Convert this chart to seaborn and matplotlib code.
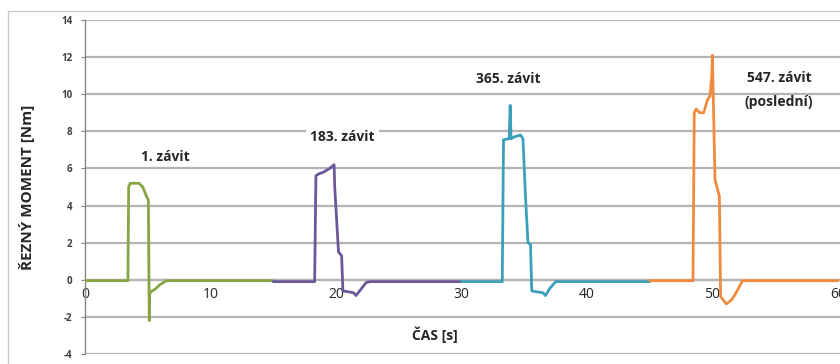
import numpy as np
import pandas as pd
import matplotlib
matplotlib.use("Agg")
import matplotlib.pyplot as plt
from matplotlib.patches import Rectangle
import seaborn as sns

# Cutting torque traces for four threads (time in s, torque in Nm)
t_first = [0, 3.42, 3.48, 3.6, 4.3, 4.6, 4.9, 5.05, 5.12, 5.16, 5.25, 5.6, 6.0, 6.5, 15]
m_first = [-0.05, -0.05, 5.0, 5.2, 5.2, 5.0, 4.5, 4.3, -2.2, -0.7, -0.65, -0.5, -0.25, -0.05, -0.05]

t_183 = [15, 18.3, 18.4, 18.6, 19.0, 19.5, 19.85, 19.9, 20.2, 20.45, 20.55, 21.0, 21.4, 21.6, 22.0, 22.4, 22.7, 30]
m_183 = [-0.1, -0.1, 5.6, 5.7, 5.8, 6.0, 6.2, 5.0, 1.5, 1.3, -0.6, -0.65, -0.7, -0.85, -0.5, -0.15, -0.1, -0.1]

t_365 = [30, 33.25, 33.35, 33.8, 33.88, 33.95, 34.2, 34.7, 34.9, 35.1, 35.3, 35.5, 35.6, 36.0, 36.5, 36.7, 37.0, 37.5, 45]
m_365 = [-0.1, -0.1, 7.55, 7.6, 9.4, 7.6, 7.7, 7.8, 7.6, 4.5, 2.0, 1.9, -0.6, -0.65, -0.7, -0.85, -0.5, -0.1, -0.1]

t_547 = [45, 48.45, 48.55, 48.7, 49.0, 49.3, 49.6, 49.8, 49.95, 50.0, 50.05, 50.2, 50.55, 50.65, 51.1, 51.5, 51.8, 52.4, 60]
m_547 = [-0.05, -0.05, 9.0, 9.2, 9.0, 9.0, 9.7, 9.9, 11.0, 12.1, 10.4, 5.4, 4.5, -0.9, -1.3, -1.1, -0.8, -0.05, -0.05]

thread_names = ["1. závit", "183. závit", "365. závit", "547. závit"]
thread_colors = ["#86A646", "#6A5898", "#3C9FBB", "#F08A3E"]

x_ticks = [0, 10, 20, 30, 40, 50, 60]
y_ticks = [-4, -2, 0, 2, 4, 6, 8, 10, 12, 14]

frames = []
for name, t, m in zip(thread_names, [t_first, t_183, t_365, t_547],
                      [m_first, m_183, m_365, m_547]):
    frames.append(pd.DataFrame({"cas": t, "moment": m, "zavit": name}))
df = pd.concat(frames, ignore_index=True)

sns.set_style("white")
plt.rcParams["font.family"] = ["Open Sans", "DejaVu Sans"]

fig = plt.figure(figsize=(8.4, 3.64), dpi=100)
ax = fig.add_axes([85 / 840, 10 / 364, 765.5 / 840, 334 / 364])

ax.set_xlim(0, 61)
ax.set_ylim(-4, 14)
ax.set_xticks(x_ticks)
ax.set_yticks(y_ticks)

# horizontal gridlines at every major y tick
ax.grid(True, axis="y", color="#B4B4B4", linewidth=1.6, linestyle="-")
ax.grid(False, axis="x")
ax.set_axisbelow(True)

sns.lineplot(data=df, x="cas", y="moment", hue="zavit",
             palette=dict(zip(thread_names, thread_colors)),
             estimator=None, sort=False, lw=2.0, legend=False, ax=ax, zorder=3)

ax.set_xlim(0, 61)
ax.set_ylim(-4, 14)

ax.set_xticklabels([str(v) for v in x_ticks], fontsize=7.5, color="#7F7F7F")
ax.set_yticklabels([str(v) for v in y_ticks], fontsize=7, color="#404040",
                   fontweight="bold")
ax.tick_params(axis="x", length=0, pad=5)
ax.tick_params(axis="y", length=3, width=0.8, color="#868686", pad=6, left=True)

for s in ["top", "right"]:
    ax.spines[s].set_visible(False)
ax.spines["bottom"].set_position(("data", 0))
ax.spines["bottom"].set_color("#B4B4B4")
ax.spines["bottom"].set_linewidth(1.6)
ax.spines["left"].set_color("#868686")
ax.spines["left"].set_linewidth(1.0)

ax.set_xlabel("ČAS [s]", fontsize=10, fontweight="bold", color="#262626")
ax.xaxis.set_label_coords((435 - 85) / 765.5, (-2.5 + 4) / 18)
ax.set_ylabel("ŘEZNÝ MOMENT [Nm]", fontsize=11, fontweight="bold", color="#262626")
ax.yaxis.set_label_coords((35 - 85) / 765.5, 0.5)

lab = dict(fontsize=10, fontweight="bold", color="#262626", ha="center",
           va="center", zorder=5)
ax.text(6.4, 6.6, "1. závit", **lab)
ax.text(20.5, 7.7, "183. závit",
        bbox=dict(facecolor="white", edgecolor="none", pad=3), **lab)
ax.text(33.7, 10.8, "365. závit", **lab)
ax.text(55.3, 10.85, "547. závit", **lab)
ax.text(55.3, 9.6, "(poslední)", **lab)

# chart area border
fig.add_artist(Rectangle((8 / 840, -0.1), 1.2, (1 - 11 / 364) + 0.1,
                         transform=fig.transFigure, fill=False,
                         ec="#C8C8C8", lw=1.0))

fig.savefig("out.png", dpi=100)
